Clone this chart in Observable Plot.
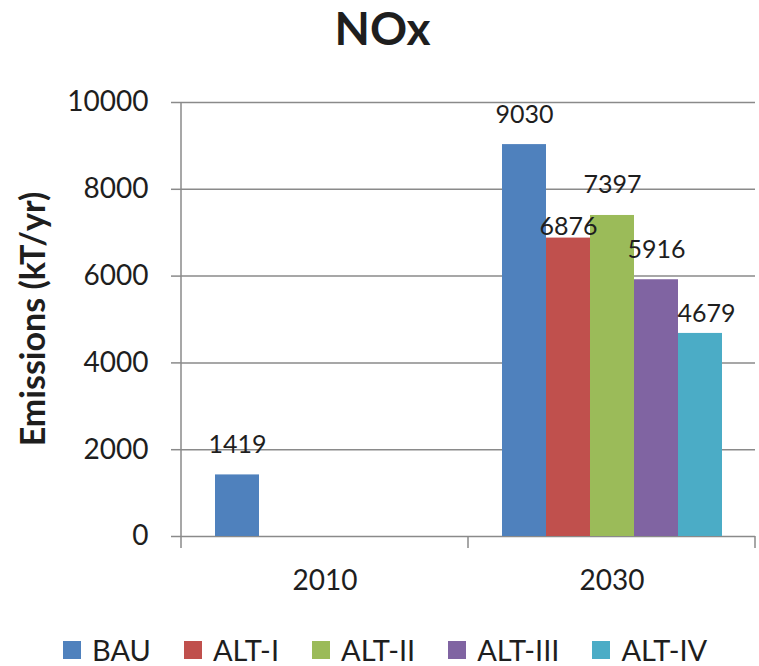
<!DOCTYPE html>
<html>
<head>
<meta charset="utf-8">
<script src="https://cdn.jsdelivr.net/npm/d3@7"></script>
<script src="https://cdn.jsdelivr.net/npm/@observablehq/plot@0.6"></script>
<style>
  body { margin: 0; background: #fff; }
  #chart { position: relative; width: 759px; height: 666px; font-family: Lato, sans-serif; color: #1e1e1e; overflow: hidden; }
  #title { position: absolute; top: 0; left: 3px; width: 759px; text-align: center; font-weight: 700; font-size: 46px; line-height: normal; }
  #plot { position: absolute; top: 60px; left: 0; }
  #legend { position: absolute; top: 638px; left: 63px; display: flex; gap: 33px; font-size: 29px; line-height: 24px; }
  #legend .item { display: flex; align-items: center; gap: 11px; }
  #legend .swatch { width: 18px; height: 18px; }
</style>
</head>
<body>
<div id="chart">
  <div id="title">NOx</div>
  <div id="plot"></div>
  <div id="legend"></div>
</div>
<script>
// NOx emissions by scenario (kT/yr)
const years = ["2010", "2030"];
const series = ["BAU", "ALT-I", "ALT-II", "ALT-III", "ALT-IV"];
const colors = ["#4F81BD", "#C0504D", "#9BBB59", "#8064A2", "#4BACC6"];
const values2010 = [1419, null, null, null, null];
const values2030 = [9030, 6876, 7397, 5916, 4679];
const yTicks = [0, 2000, 4000, 6000, 8000, 10000];
const yLabel = "Emissions (kT/yr)";

const rows = [];
[values2010, values2030].forEach((vals, i) => {
  series.forEach((s, j) => {
    if (vals[j] != null) rows.push({year: years[i], series: s, value: vals[j]});
  });
});

// value labels sit above their bars; two are nudged down to avoid crowding
const nudged = {"ALT-I": {dx: 0, dy: -11}, "ALT-IV": {dx: 6, dy: -19}};
const isNudged = d => d.year === "2030" && nudged[d.series];

const gridColor = "#8a8a8a";
const textColor = "#1e1e1e";

const labelMarks = [
  Plot.text(rows.filter(d => !isNudged(d)), {
    fx: "year", x: "series", y: "value", text: d => String(d.value),
    dy: -30, fontSize: 25, fill: textColor
  }),
  ...Object.entries(nudged).map(([s, o]) =>
    Plot.text(rows.filter(d => d.year === "2030" && d.series === s), {
      fx: "year", x: "series", y: "value", text: d => String(d.value),
      dx: o.dx, dy: o.dy, fontSize: 25, fill: textColor
    }))
];

const plot = Plot.plot({
  width: 759,
  height: 560,
  marginTop: 42,
  marginBottom: 84,
  marginLeft: 180,
  marginRight: 4,
  style: {fontFamily: "Lato, sans-serif", color: textColor, background: "transparent"},
  fx: {domain: years, padding: 0, axis: null},
  x: {domain: series, paddingInner: 0, paddingOuter: 0.74, axis: null},
  y: {domain: [0, 10000], axis: null},
  color: {domain: series, range: colors},
  marks: [
    Plot.gridY(yTicks, {stroke: gridColor, strokeOpacity: 1, strokeWidth: 1.5}),
    Plot.axisY(yTicks, {
      tickSize: 10, tickPadding: 23, fontSize: 28, tickFormat: "d",
      stroke: gridColor, strokeWidth: 1.5, fill: textColor, label: null
    }),
    Plot.axisFx({anchor: "bottom", tickSize: 0, tickPadding: 34, fontSize: 28, fill: textColor, label: null}),
    Plot.barY(rows, {fx: "year", x: "series", y: "value", fill: "series"}),
    ...labelMarks
  ]
});

// category boundary ticks, the vertical axis line and the axis title
const fxScale = plot.scale("fx");
const yScale = plot.scale("y");
const y0 = yScale.apply(0);
const yTop = yScale.apply(yTicks[yTicks.length - 1]);
const edges = years.map(d => fxScale.apply(d));
edges.push(fxScale.apply(years[years.length - 1]) + fxScale.bandwidth);
const svg = d3.select(plot);
const g = svg.append("g").attr("stroke", gridColor).attr("stroke-width", 1.5);
edges.forEach((x, i) => {
  g.append("line")
    .attr("x1", x).attr("x2", x)
    .attr("y1", i === 0 ? yTop : y0)
    .attr("y2", y0 + 12);
});
svg.append("text")
  .attr("transform", `translate(33,${(yTop + y0) / 2}) rotate(-90)`)
  .attr("text-anchor", "middle")
  .attr("dy", "0.36em")
  .attr("font-weight", "bold")
  .attr("font-size", 34)
  .attr("fill", textColor)
  .text(yLabel);

document.getElementById("plot").appendChild(plot);

const legend = d3.select("#legend");
series.forEach((s, i) => {
  const item = legend.append("div").attr("class", "item");
  item.append("div").attr("class", "swatch").style("background", colors[i]);
  item.append("span").text(s);
});
</script>
</body>
</html>
